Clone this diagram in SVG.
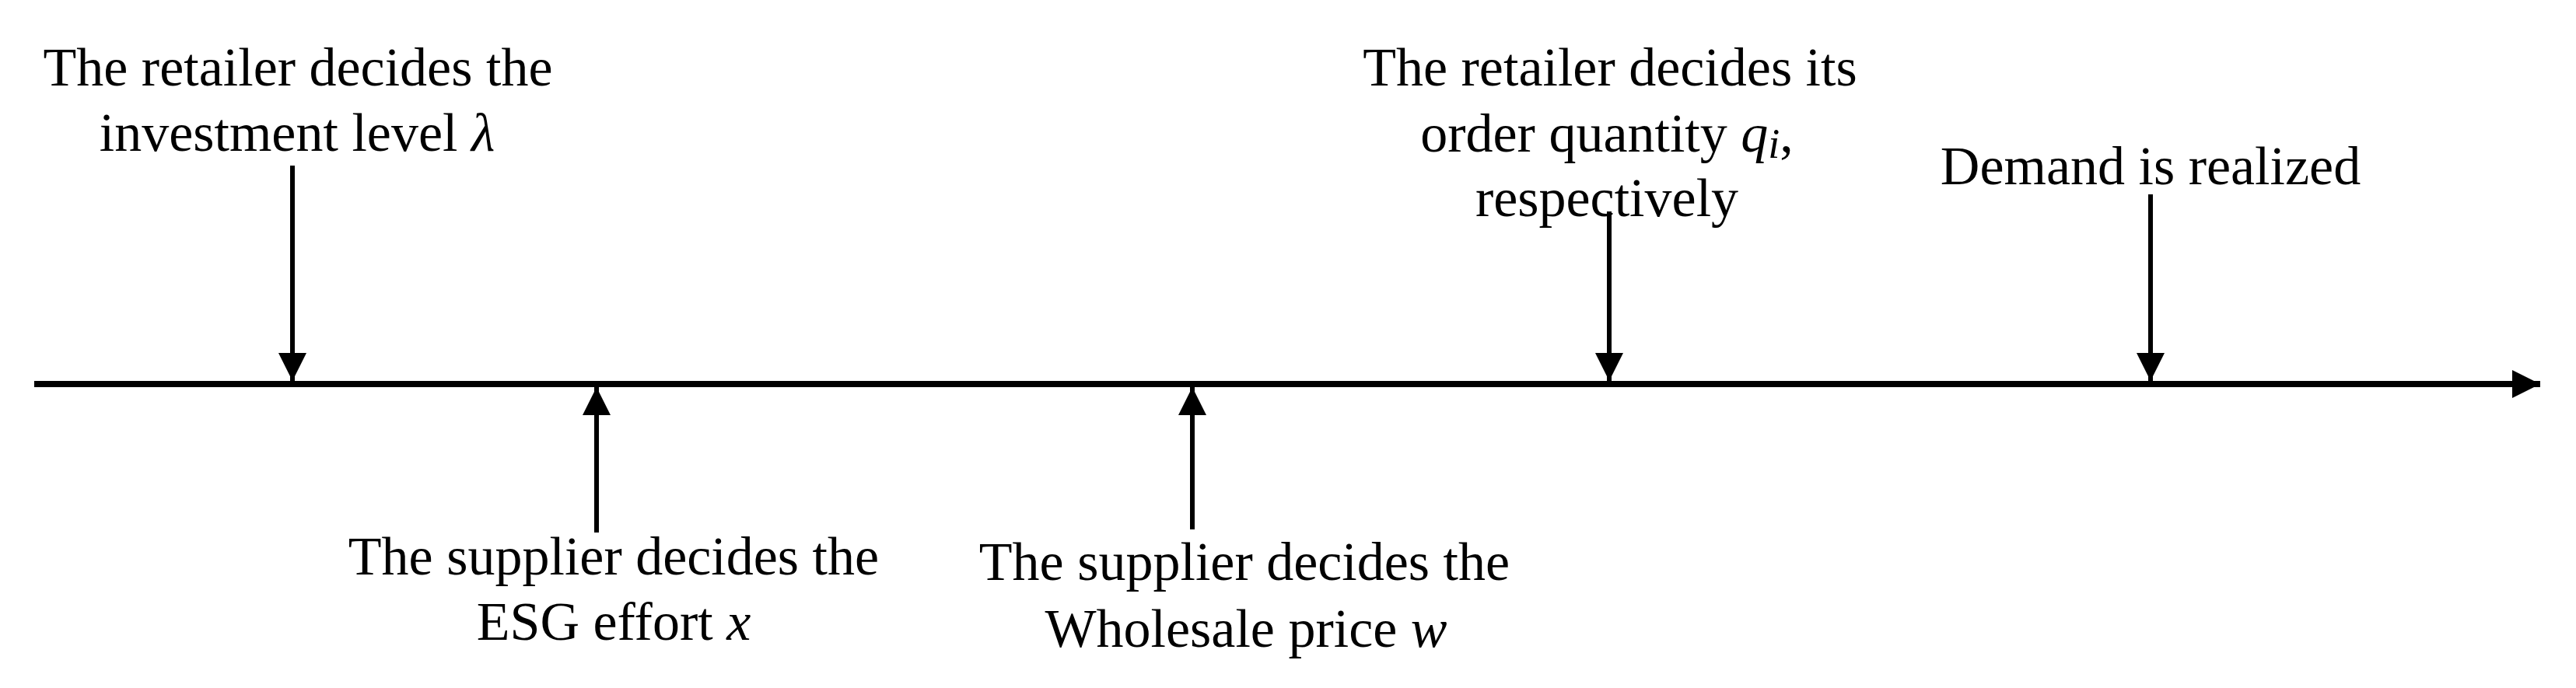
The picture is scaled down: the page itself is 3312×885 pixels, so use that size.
<svg xmlns="http://www.w3.org/2000/svg" width="3312" height="885" viewBox="0 0 3312 885">
<style>
text{font-family:"Liberation Serif","Times New Roman",serif;font-size:70px;fill:#000;text-anchor:middle}
.m{font-style:italic}
.s{font-style:italic;font-size:54px}
.ln{stroke:#000;stroke-width:6;fill:none}
</style>
<defs>
<marker id="ah" markerUnits="userSpaceOnUse" markerWidth="36" markerHeight="36" viewBox="0 0 36 36" refX="36" refY="18" orient="auto">
<path d="M0,0 L36,18 L0,36 Z" fill="#000"/>
</marker>
</defs>
<rect width="3312" height="885" fill="#fff"/>
<g id="connectors">
<line x1="44" y1="494" x2="3266" y2="494" stroke="#000" stroke-width="8" marker-end="url(#ah)"/>
<line class="ln" x1="376" y1="213" x2="376" y2="490" marker-end="url(#ah)"/>
<line class="ln" x1="767" y1="685" x2="767" y2="498" marker-end="url(#ah)"/>
<line class="ln" x1="1533" y1="681" x2="1533" y2="498" marker-end="url(#ah)"/>
<line class="ln" x1="2069" y1="272" x2="2069" y2="490" marker-end="url(#ah)"/>
<line class="ln" x1="2765" y1="250" x2="2765" y2="490" marker-end="url(#ah)"/>
</g>
<g id="n1">
<text x="383" y="110">The retailer decides the</text>
<text x="382" y="194">investment level <tspan class="m">λ</tspan></text>
</g>
<g id="n2">
<text x="789" y="739">The supplier decides the</text>
<text x="789" y="823">ESG effort <tspan class="m">x</tspan></text>
</g>
<g id="n3">
<text x="1600" y="746">The supplier decides the</text>
<text x="1602" y="832">Wholesale price <tspan class="m">w</tspan></text>
</g>
<g id="n4">
<text x="2070" y="110">The retailer decides its</text>
<text x="2066" y="195">order quantity <tspan class="m">q</tspan><tspan class="s" dy="8">i</tspan><tspan dy="-8">,</tspan></text>
<text x="2066" y="278">respectively</text>
</g>
<g id="n5">
<text x="2765" y="237">Demand is realized</text>
</g>
</svg>
